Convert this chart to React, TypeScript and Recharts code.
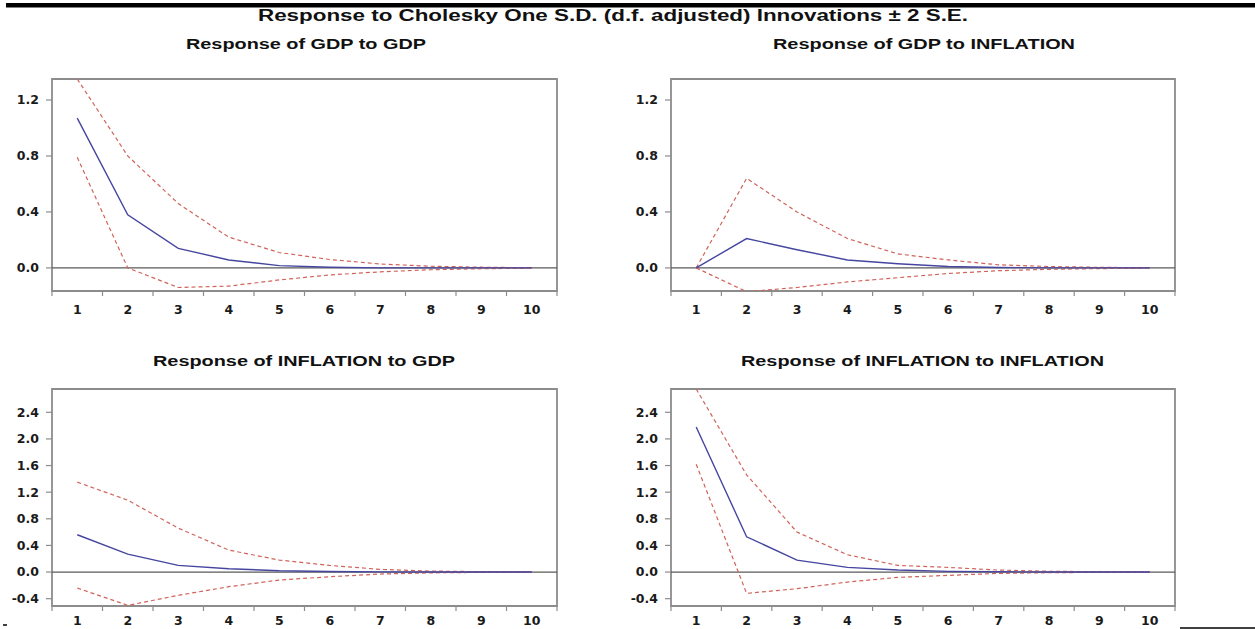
import { LineChart, Line, XAxis, YAxis, ReferenceLine, ReferenceArea } from "recharts";

// Impulse response periods
const periods = [1, 2, 3, 4, 5, 6, 7, 8, 9, 10];

// Response of GDP to GDP
const gdpGdpResp = [1.07, 0.38, 0.14, 0.057, 0.016, 0.005, 0.0, 0.0, 0.0, 0.0];
const gdpGdpUpper = [1.35, 0.8, 0.46, 0.22, 0.11, 0.06, 0.028, 0.012, 0.005, 0.001];
const gdpGdpLower = [0.79, 0.0, -0.14, -0.13, -0.086, -0.05, -0.028, -0.013, -0.006, -0.002];

// Response of GDP to INFLATION
const gdpInfResp = [0.0, 0.21, 0.13, 0.057, 0.03, 0.01, 0.003, 0.0, 0.0, 0.0];
const gdpInfUpper = [0.0, 0.64, 0.4, 0.21, 0.1, 0.057, 0.022, 0.01, 0.004, 0.001];
const gdpInfLower = [0.0, -0.17, -0.14, -0.1, -0.07, -0.04, -0.02, -0.01, -0.005, -0.002];

// Response of INFLATION to GDP
const infGdpResp = [0.56, 0.27, 0.1, 0.05, 0.02, 0.008, 0.003, 0.0, 0.0, 0.0];
const infGdpUpper = [1.35, 1.08, 0.66, 0.33, 0.18, 0.1, 0.04, 0.015, 0.006, 0.002];
const infGdpLower = [-0.24, -0.5, -0.35, -0.22, -0.12, -0.07, -0.03, -0.012, -0.005, -0.002];

// Response of INFLATION to INFLATION
const infInfResp = [2.18, 0.53, 0.18, 0.07, 0.03, 0.01, 0.004, 0.0, 0.0, 0.0];
const infInfUpper = [2.75, 1.46, 0.6, 0.26, 0.1, 0.07, 0.03, 0.012, 0.005, 0.002];
const infInfLower = [1.62, -0.32, -0.25, -0.15, -0.08, -0.05, -0.02, -0.01, -0.004, -0.001];

// y axis ticks per row
const topTicks = [0, 0.4, 0.8, 1.2];
const bottomTicks = [-0.4, 0, 0.4, 0.8, 1.2, 1.6, 2.0, 2.4];
const topDomain: [number, number] = [-0.165, 1.35];
const bottomDomain: [number, number] = [-0.51, 2.75];

// x ticks: labels on periods, tick marks on band edges
const xTicks = [...periods.flatMap((p) => [p - 0.5, p]), 10.5];

const FRAME = "#8c8c8c";
const BLUE = "#4646a0";
const RED = "#d0645a";
const TICK_FONT = "'DejaVu Sans', Arial, sans-serif";
const TITLE_FONT = "'Liberation Sans', Arial, sans-serif";

function XTick(props: any) {
  const { x, y, payload, labelOffset } = props;
  const v = payload.value as number;
  if (Number.isInteger(v)) {
    return (
      <text
        x={x}
        y={y + labelOffset}
        textAnchor="middle"
        fontFamily={TICK_FONT}
        fontWeight="bold"
        fontSize={12.5}
        fill="#1a1a1a"
      >
        {v}
      </text>
    );
  }
  return <line x1={x} y1={y} x2={x} y2={y + 5} stroke={FRAME} strokeWidth={1.2} />;
}

interface PanelProps {
  left: number;
  top: number;
  width: number;
  height: number;
  domain: [number, number];
  ticks: number[];
  labelOffset: number;
  resp: number[];
  upper: number[];
  lower: number[];
}

function Panel({ left, top, width, height, domain, ticks, labelOffset, resp, upper, lower }: PanelProps) {
  const data = periods.map((p, i) => ({
    period: p,
    resp: resp[i],
    upper: upper[i],
    lower: lower[i],
  }));

  return (
    <div style={{ position: "absolute", left: left - 52, top: top - 20 }}>
      <LineChart
        width={width + 72}
        height={height + 60}
        data={data}
        margin={{ top: 20, right: 20, left: 0, bottom: 10 }}
      >
        <XAxis
          dataKey="period"
          type="number"
          domain={[0.5, 10.5]}
          ticks={xTicks}
          interval={0}
          height={30}
          tickSize={0}
          tickMargin={0}
          tickLine={false}
          axisLine={false}
          tick={<XTick labelOffset={labelOffset} />}
          allowDataOverflow
        />
        <YAxis
          type="number"
          domain={domain}
          ticks={ticks}
          width={52}
          tickSize={6}
          tickMargin={7}
          axisLine={false}
          tickLine={{ stroke: FRAME, strokeWidth: 1.2 }}
          tickFormatter={(v: number) => v.toFixed(1)}
          tick={{ fontFamily: TICK_FONT, fontWeight: "bold", fontSize: 12.5, fill: "#1a1a1a" }}
          allowDataOverflow
        />
        <ReferenceArea
          x1={0.5}
          x2={10.5}
          y1={domain[0]}
          y2={domain[1]}
          fill="none"
          fillOpacity={0}
          stroke={FRAME}
          strokeWidth={1.8}
        />
        <ReferenceLine y={0} stroke="#5a5a5a" strokeWidth={1.2} />
        <Line
          type="linear"
          dataKey="upper"
          stroke={RED}
          strokeWidth={1.2}
          strokeDasharray="4 3"
          dot={false}
          isAnimationActive={false}
        />
        <Line
          type="linear"
          dataKey="lower"
          stroke={RED}
          strokeWidth={1.2}
          strokeDasharray="4 3"
          dot={false}
          isAnimationActive={false}
        />
        <Line
          type="linear"
          dataKey="resp"
          stroke={BLUE}
          strokeWidth={1.4}
          dot={false}
          isAnimationActive={false}
        />
      </LineChart>
    </div>
  );
}

export default function App() {
  return (
    <div
      style={{
        position: "fixed",
        left: 0,
        top: 0,
        width: 1255,
        height: 629,
        background: "#fff",
        overflow: "hidden",
      }}
    >
      <Panel left={52} top={79} width={505} height={212} domain={topDomain} ticks={topTicks}
        labelOffset={23} resp={gdpGdpResp} upper={gdpGdpUpper} lower={gdpGdpLower} />
      <Panel left={671} top={79} width={504} height={212} domain={topDomain} ticks={topTicks}
        labelOffset={23} resp={gdpInfResp} upper={gdpInfUpper} lower={gdpInfLower} />
      <Panel left={52} top={389} width={505} height={217} domain={bottomDomain} ticks={bottomTicks}
        labelOffset={19} resp={infGdpResp} upper={infGdpUpper} lower={infGdpLower} />
      <Panel left={671} top={389} width={504} height={217} domain={bottomDomain} ticks={bottomTicks}
        labelOffset={19} resp={infInfResp} upper={infInfUpper} lower={infInfLower} />

      <svg
        width={1255}
        height={629}
        style={{ position: "absolute", left: 0, top: 0, pointerEvents: "none" }}
      >
        <rect x={6} y={3} width={1249} height={4.5} fill="#000" />
        <text x={258} y={21} fontFamily={TITLE_FONT} fontWeight="bold" fontSize={16}
          textLength={710} lengthAdjust="spacingAndGlyphs" fill="#111">
          Response to Cholesky One S.D. (d.f. adjusted) Innovations ± 2 S.E.
        </text>
        <text x={186} y={49} fontFamily={TITLE_FONT} fontWeight="bold" fontSize={14}
          textLength={240} lengthAdjust="spacingAndGlyphs" fill="#111">
          Response of GDP to GDP
        </text>
        <text x={773} y={49} fontFamily={TITLE_FONT} fontWeight="bold" fontSize={14}
          textLength={302} lengthAdjust="spacingAndGlyphs" fill="#111">
          Response of GDP to INFLATION
        </text>
        <text x={153} y={366} fontFamily={TITLE_FONT} fontWeight="bold" fontSize={14}
          textLength={302} lengthAdjust="spacingAndGlyphs" fill="#111">
          Response of INFLATION to GDP
        </text>
        <text x={741} y={366} fontFamily={TITLE_FONT} fontWeight="bold" fontSize={14}
          textLength={363} lengthAdjust="spacingAndGlyphs" fill="#111">
          Response of INFLATION to INFLATION
        </text>
        <line x1={1180} y1={628} x2={1255} y2={628} stroke="#000" strokeWidth={1.5} />
        <line x1={3} y1={625} x2={7} y2={625} stroke="#000" strokeWidth={1.5} />
      </svg>
    </div>
  );
}
